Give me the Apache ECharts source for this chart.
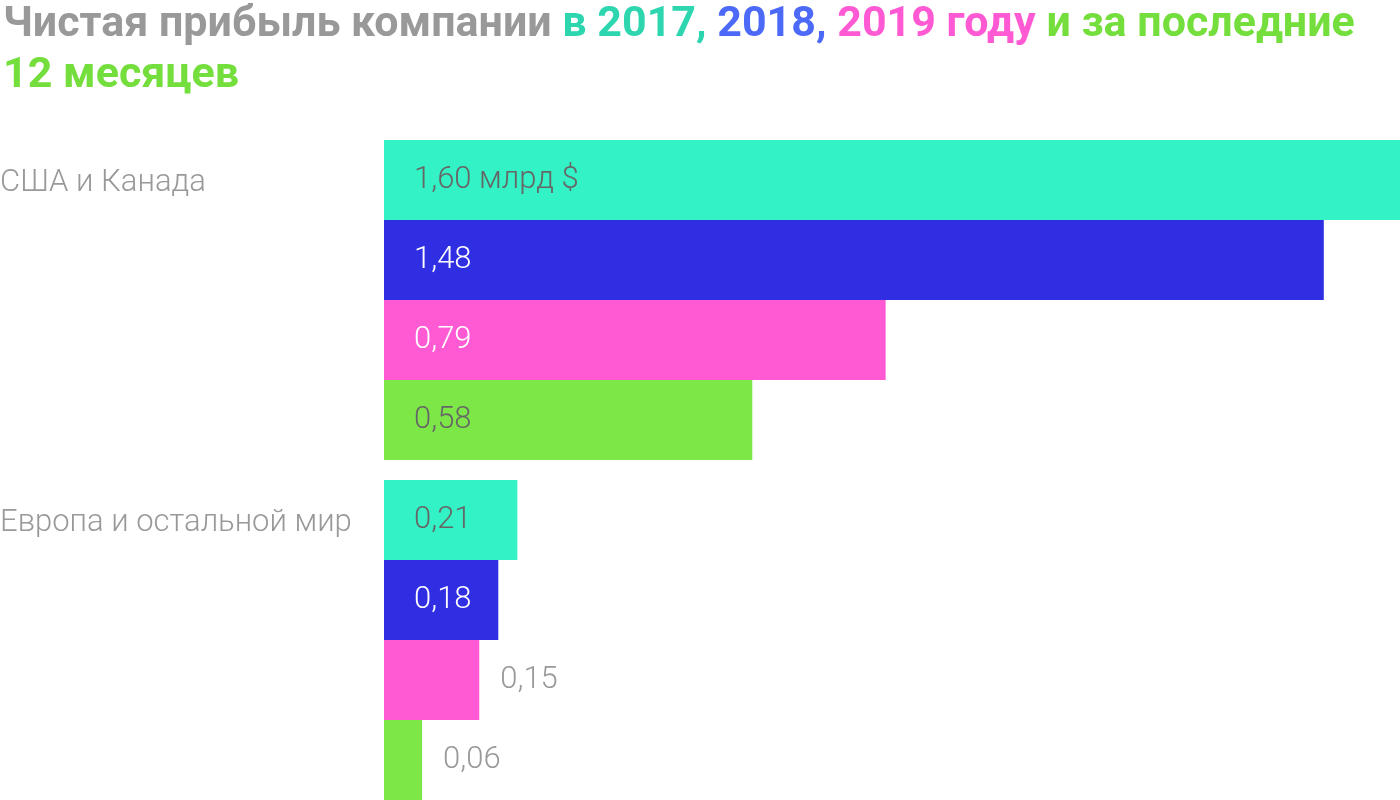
<!DOCTYPE html>
<html>
<head>
<meta charset="utf-8">
<script src="https://cdn.jsdelivr.net/npm/echarts@6/dist/echarts.min.js"></script>
<style>
html,body{margin:0;padding:0;background:#fff;}
#c{width:1400px;height:800px;}
</style>
</head>
<body>
<div id="c"></div>
<script>
const categories = ['США и Канада', 'Европа и остальной мир'];
const seriesNames = ['2017', '2018', '2019', '12 месяцев'];
const v2017 = [1.60, 0.21];
const v2018 = [1.48, 0.18];
const v2019 = [0.79, 0.15];
const vLTM = [0.58, 0.06];

const barColors = ['#33f2c5', '#2f2ee3', '#ff5ad4', '#7de748'];
const insideLabelColors = ['#666666', '#ffffff', '#ffffff', '#666666'];
const allValues = [v2017, v2018, v2019, vLTM];

function fmt(v, first) {
  const s = v.toFixed(2).replace('.', ',');
  return first ? s + ' млрд $' : s;
}

const series = allValues.map((vals, si) => ({
  name: seriesNames[si],
  type: 'bar',
  barWidth: 80,
  barGap: '0%',
  itemStyle: { color: barColors[si] },
  data: vals.map((v, ci) => {
    const outside = v < 0.16;
    return {
      value: v,
      label: {
        show: true,
        position: outside ? 'right' : 'insideLeft',
        distance: outside ? 21 : 30,
        color: outside ? '#999999' : insideLabelColors[si],
        fontSize: 31,
        fontWeight: 300,
        fontFamily: 'Roboto',
        padding: [4, 0, 0, 0],
        formatter: () => fmt(v, si === 0 && ci === 0)
      }
    };
  }),
  animation: false
}));

const T = { fontSize: 43, fontWeight: 'bold', fontFamily: 'Roboto', lineHeight: 51 };
const chart = echarts.init(document.getElementById('c'));
chart.setOption({
  animation: false,
  title: {
    left: -2, top: -5,
    text: '{g|Чистая прибыль компании }{t|в 2017, }{b|2018, }{p|2019 году }{l|и за последние}\n{l|12 месяцев}',
    textStyle: {
      rich: {
        g: Object.assign({ color: '#999999' }, T),
        t: Object.assign({ color: '#2ed6b0' }, T),
        b: Object.assign({ color: '#4c6af7' }, T),
        p: Object.assign({ color: '#ff5ad4' }, T),
        l: Object.assign({ color: '#74de3c' }, T)
      }
    }
  },
  grid: { left: 384, right: 0, top: 130, height: 680, containLabel: false, outerBoundsMode: 'none' },
  xAxis: { type: 'value', min: 0, max: 1.6, show: false },
  yAxis: {
    type: 'category',
    inverse: true,
    data: categories,
    axisLine: { show: false },
    axisTick: { show: false },
    splitLine: { show: false },
    axisLabel: {
      align: 'left',
      margin: 384,
      formatter: (v) => '{a|' + v + '}\n{s| }',
      rich: {
        a: { fontSize: 31, fontWeight: 300, fontFamily: 'Roboto', color: '#999999', lineHeight: 36 },
        s: { fontSize: 10, lineHeight: 234 }
      }
    }
  },
  series: series
});
</script>
</body>
</html>
